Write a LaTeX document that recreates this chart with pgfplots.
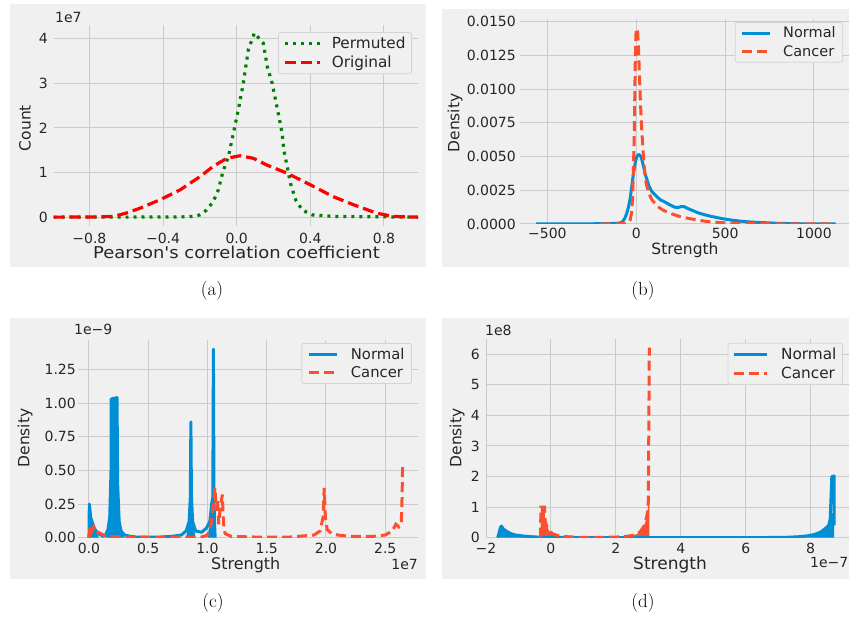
\documentclass[border=0pt]{standalone}
\usepackage{pgfplots}
\pgfplotsset{compat=1.18}
\usepackage{fontspec}
\newfontfamily\dv{DejaVu Sans}
\definecolor{bgc}{HTML}{F0F0F0}
\definecolor{gridc}{HTML}{CBCBCB}
\definecolor{txt}{HTML}{262626}
\definecolor{cblue}{HTML}{008FD5}
\definecolor{cred}{HTML}{FC4F30}
\definecolor{pgreen}{HTML}{008000}
\definecolor{pred}{HTML}{FF0000}
\definecolor{legc}{HTML}{D4D4D4}
\newcommand{\tfs}{\dv\fontsize{14}{14}\selectfont}
\newcommand{\lfs}{\dv\fontsize{15.5}{16}\selectfont}
\newcommand{\gfs}{\dv\fontsize{14.5}{15}\selectfont}
\pgfplotsset{
  panel/.style={scale only axis, anchor=south west,
    scaled x ticks=false, scaled y ticks=false,
    axis line style={draw=none}, major tick length=0pt,
    grid=major, major grid style={draw=gridc, line width=1pt},
    tick label style={font=\tfs, text=txt},
    xticklabel style={inner sep=0pt, anchor=north},
    yticklabel style={inner sep=0pt, anchor=east},
    legend cell align=left,
    legend style={anchor=north east, draw=legc, line width=0.8pt, fill=bgc,
      rounded corners=2pt, font=\gfs, text=txt, inner ysep=3pt, row sep=3pt,
      nodes={inner sep=1.5pt}},
  },
  bl/.style={cblue, line width=3pt, line join=round},
  rd/.style={cred, line width=3pt, dash pattern=on 10pt off 5pt},
}
\begin{document}
\begin{tikzpicture}
\useasboundingbox (0pt,0pt) rectangle (849pt,621pt);
\fill[bgc] (10pt,354.3pt) rectangle (425.7pt,617pt);
\fill[bgc] (441.7pt,354.3pt) rectangle (849pt,611.7pt);
\fill[bgc] (10pt,41.7pt) rectangle (425.7pt,302.7pt);
\fill[bgc] (441.7pt,41.7pt) rectangle (849pt,303pt);

% ---------------- (a)
\begin{axis}[panel, at={(53.5pt,394.5pt)}, width=364.5pt, height=201.5pt,
  xmin=-0.995, xmax=0.985, ymin=-0.21, ymax=4.31,
  xtick={-0.8,-0.4,0,0.4,0.8}, xticklabels={−0.8,−0.4,0.0,0.4,0.8},
  ytick={0,1,2,3,4}, yticklabels={0,1,2,3,4},
  xticklabel style={yshift=-6pt}, yticklabel style={xshift=-5.5pt},
  legend style={at={(axis description cs:0.9835,0.965)}, inner xsep=4.5pt, column sep=9pt,
    font=\dv\fontsize{15.3}{16}\selectfont},
  legend image code/.code={\draw[#1] (0pt,0pt) -- (35pt,0pt);}]
\addplot[pgreen, line width=3.2pt, dash pattern=on 3pt off 5pt] coordinates {
(-0.995,0) (-0.6,0) (-0.3,0.005) (-0.235,0.015) (-0.199,0.05) (-0.163,0.16) (-0.127,0.35)
(-0.1,0.61) (-0.076,1.0) (-0.045,1.36) (-0.018,1.88) (0.009,2.41) (0.036,3.0) (0.063,3.75)
(0.096,4.13) (0.145,3.9) (0.166,3.38) (0.193,3.0) (0.211,2.63) (0.229,2.26) (0.247,1.88)
(0.256,1.51) (0.274,1.14) (0.292,0.76) (0.32,0.39) (0.356,0.16) (0.41,0.05) (0.53,0.015) (0.985,0)};
\addlegendentry{Permuted}
\addplot[pred, line width=3.2pt, dash pattern=on 11pt off 5pt] coordinates {
(-0.995,0) (-0.8,0.003) (-0.67,0.015) (-0.6,0.09) (-0.525,0.2) (-0.416,0.39) (-0.308,0.61)
(-0.199,0.91) (-0.127,1.14) (-0.054,1.32) (0.018,1.376) (0.09,1.32) (0.163,1.17)
(0.271,0.99) (0.398,0.73) (0.524,0.46) (0.633,0.28) (0.76,0.09) (0.85,0.015) (0.985,0)};
\addlegendentry{Original}
\end{axis}

% ---------------- (b)
\begin{axis}[panel, at={(520pt,397pt)}, width=329pt, height=204.6pt,
  xmin=-654, xmax=1197, ymin=0, ymax=0.01517,
  xtick={-500,0,500,1000}, xticklabels={−500,0,500,1000},
  ytick={0,0.0025,0.005,0.0075,0.01,0.0125,0.015},
  yticklabels={0.0000,0.0025,0.0050,0.0075,0.0100,0.0125,0.0150},
  xticklabel style={yshift=-4pt}, yticklabel style={xshift=-4pt},
  legend style={at={(axis description cs:0.982,0.987)}, inner xsep=5.5pt, column sep=10pt},
  legend image code/.code={\draw[#1] (0pt,0pt) -- (28pt,0pt);}]
\addplot[bl] coordinates {
(-564,0) (-300,0.00001) (-150,0.00003) (-100,0.00006) (-81,0.00012) (-65,0.0004) (-53,0.0008)
(-43,0.0013) (-34,0.0019) (-25,0.0028) (-15,0.0038) (-5,0.0046) (4,0.005) (13,0.00516)
(20,0.0051) (26,0.005) (33,0.0047) (41,0.00425) (50,0.0037) (60,0.0033) (72,0.0028)
(88,0.0024) (110,0.0021) (135,0.0018) (165,0.0016) (192,0.0014) (215,0.00125) (235,0.00122)
(255,0.0013) (270,0.00128) (290,0.00115) (320,0.00098) (350,0.00082) (380,0.0007)
(420,0.00057) (474,0.00042) (530,0.0003) (586,0.00021) (650,0.00014) (718,0.0001)
(800,0.00005) (906,0.00002) (1000,0.00001) (1122,0)};
\addlegendentry{Normal}
\addplot[rd] coordinates {
(-200,0) (-100,0.00001) (-62,0.00005) (-45,0.0001) (-34,0.0003) (-27,0.0008) (-21,0.0018)
(-16,0.004) (-11,0.0067) (-6,0.0117) (-2,0.014) (0,0.0144) (4,0.0145) (8,0.0142)
(13,0.0129) (18,0.011) (23,0.0092) (30,0.0072) (38,0.0055) (46,0.0041) (56,0.003)
(70,0.0023) (88,0.0018) (120,0.0013) (154,0.001) (200,0.00075) (248,0.00054) (300,0.0004)
(342,0.0003) (400,0.00018) (474,0.0001) (600,0.00004) (718,0.00002) (900,0.00001) (1122,0)};
\addlegendentry{Cancer}
\end{axis}

% ---------------- (c)
\begin{axis}[panel, at={(78.3pt,83.3pt)}, width=340pt, height=197.7pt,
  xmin=-0.09, xmax=2.779, ymin=0, ymax=1.468,
  xtick={0,0.5,1,1.5,2,2.5}, xticklabels={0.0,0.5,1.0,1.5,2.0,2.5},
  ytick={0,0.25,0.5,0.75,1,1.25}, yticklabels={0.00,0.25,0.50,0.75,1.00,1.25},
  xticklabel style={yshift=-5.3pt}, yticklabel style={xshift=-2.3pt},
  legend style={at={(axis description cs:0.981,0.985)}, inner xsep=5.5pt, column sep=11pt,
    font=\dv\fontsize{14.8}{15}\selectfont},
  legend image code/.code={\draw[#1] (0pt,0pt) -- (28pt,0pt);}]
\addplot[cblue, draw=none, fill=cblue, forget plot] coordinates {
(-0.002,0) (0.003,0.25) (0.01,0.2) (0.02,0.12) (0.04,0.09) (0.06,0.05) (0.085,0)} \closedcycle;
\addplot[cblue, draw=none, fill=cblue, forget plot] coordinates {
(0.14,0) (0.16,0.06) (0.175,0.12) (0.186,0.5) (0.188,1.03) (0.237,1.04) (0.242,0.4) (0.26,0.1) (0.29,0.03) (0.3,0)} \closedcycle;
\addplot[cblue, draw=none, fill=cblue, forget plot] coordinates {
(0.82,0) (0.84,0.1) (0.855,0.3) (0.86,0.86) (0.865,0.3) (0.88,0.1) (0.9,0)} \closedcycle;
\addplot[cblue, draw=none, fill=cblue, forget plot] coordinates {
(1.0,0) (1.02,0.12) (1.035,0.25) (1.05,1.0) (1.06,0.1) (1.065,0)} \closedcycle;
\addplot[bl] coordinates {
(0.0,0.0) (0.003,0.25) (0.015,0.15) (0.03,0.11) (0.045,0.07) (0.06,0.05) (0.08,0.03)
(0.1,0.02) (0.12,0.01) (0.14,0.02) (0.16,0.06) (0.175,0.15) (0.186,0.5) (0.188,1.03)
(0.237,1.04) (0.242,0.4) (0.255,0.12) (0.27,0.05) (0.3,0.02) (0.35,0.01) (0.4,0.005)
(0.5,0.003) (0.6,0.005) (0.7,0.01) (0.78,0.02) (0.82,0.05) (0.845,0.12) (0.855,0.3)
(0.86,0.86) (0.865,0.3) (0.875,0.12) (0.9,0.05) (0.95,0.04) (0.99,0.07) (1.02,0.12)
(1.035,0.25) (1.045,0.3) (1.05,1.40) (1.055,0.3) (1.06,0.1) (1.065,0.0)};
\addlegendentry{Normal}
\addplot[rd] coordinates {
(0.0,0.0) (0.01,0.08) (0.02,0.04) (0.04,0.08) (0.06,0.03) (0.08,0.04) (0.1,0.03)
(0.15,0.01) (0.3,0.005) (0.6,0.003) (0.95,0.005) (1.0,0.02) (1.03,0.1) (1.05,0.25)
(1.063,0.37) (1.075,0.2) (1.085,0.28) (1.095,0.1) (1.105,0.2) (1.125,0.32) (1.133,0.15)
(1.14,0.06) (1.15,0.03) (1.2,0.01) (1.4,0.005) (1.7,0.005) (1.9,0.02) (1.95,0.05)
(1.975,0.15) (1.985,0.37) (1.995,0.15) (2.01,0.06) (2.05,0.03) (2.1,0.02) (2.2,0.01)
(2.4,0.01) (2.5,0.02) (2.56,0.05) (2.59,0.1) (2.615,0.08) (2.635,0.1) (2.642,0.3) (2.647,0.56)};
\addlegendentry{Cancer}
\end{axis}

% ---------------- (d)
\begin{axis}[panel, at={(486pt,83.3pt)}, width=363pt, height=198.4pt,
  xmin=-2.0, xmax=9.18, ymin=0, ymax=6.49,
  xtick={-2,0,2,4,6,8}, xticklabels={−2,0,2,4,6,8},
  ytick={0,1,2,3,4,5,6}, yticklabels={0,1,2,3,4,5,6},
  xticklabel style={yshift=-5.3pt}, yticklabel style={xshift=-6pt},
  legend style={at={(axis description cs:0.983,0.982)}, inner xsep=4.5pt, column sep=11pt,
    font=\dv\fontsize{15.3}{16}\selectfont},
  legend image code/.code={\draw[#1] (0pt,0pt) -- (33pt,0pt);}]
\addplot[draw=none, fill=cblue, forget plot] coordinates {
(-1.64,0) (-1.6,0.15) (-1.55,0.35) (-1.52,0.38) (-1.48,0.3) (-1.42,0.25) (-1.35,0.2)
(-1.25,0.14) (-1.1,0.09) (-0.9,0.06) (-0.8,0)} \closedcycle;
\addplot[draw=none, fill=cblue, forget plot] coordinates {
(7.7,0) (7.9,0.06) (8.1,0.1) (8.3,0.18) (8.45,0.3) (8.55,0.4) (8.6,0.6) (8.65,0.8) (8.72,0.8) (8.72,0)} \closedcycle;
\addplot[draw=none, fill=cred, forget plot] coordinates {
(-0.32,0) (-0.31,1.0) (-0.2,1.0) (-0.18,0.55) (-0.12,0.35) (-0.05,0.22) (0.05,0.13)
(0.15,0.09) (0.3,0.05) (0.4,0)} \closedcycle;
\addplot[draw=none, fill=cred, forget plot] coordinates {
(2.35,0) (2.5,0.07) (2.65,0.12) (2.75,0.2) (2.85,0.35) (2.92,0.55) (2.97,0.8) (3.0,1.2) (3.03,1.2) (3.03,0)} \closedcycle;
\addplot[bl] coordinates {
(-1.64,0) (-1.6,0.15) (-1.55,0.35) (-1.52,0.38) (-1.48,0.3) (-1.42,0.25) (-1.35,0.2)
(-1.25,0.14) (-1.1,0.09) (-0.9,0.06) (-0.7,0.04) (-0.4,0.02) (0,0.01) (1,0.005) (3,0.003)
(5,0.003) (6.5,0.005) (7.2,0.01) (7.6,0.03) (7.9,0.06) (8.1,0.1) (8.3,0.18) (8.45,0.3)
(8.55,0.4) (8.6,0.6) (8.65,2.0) (8.72,2.02) (8.72,0.4)};
\addlegendentry{Normal}
\addplot[rd] coordinates {
(-0.32,0) (-0.31,1.0) (-0.2,1.0) (-0.18,0.55) (-0.12,0.35) (-0.05,0.22) (0.05,0.13)
(0.15,0.09) (0.3,0.05) (0.4,0.04) (0.7,0.02) (1.0,0.01) (1.5,0.01) (2.0,0.02) (2.3,0.04)
(2.5,0.07) (2.65,0.12) (2.75,0.2) (2.85,0.35) (2.92,0.55) (2.97,0.8) (3.0,1.2) (3.03,6.22)};
\addlegendentry{Cancer}
\end{axis}

% labels
\begin{scope}[every node/.style={text=txt, inner sep=0pt}]
\node[font=\dv\fontsize{16.3}{17}\selectfont, xscale=1.1] at (236.5pt,368.5pt) {Pearson's correlation coefficient};
\node[font=\dv\fontsize{15.5}{16}\selectfont, rotate=90] at (25pt,493pt) {Count};
\node[font=\tfs, anchor=west] at (55pt,603.5pt) {1e7};
\node[font=\lfs] at (685pt,370.3pt) {Strength};
\node[font=\lfs, rotate=90] at (455pt,498pt) {Density};
\node[font=\dv\fontsize{16}{17}\selectfont] at (245.7pt,56pt) {Strength};
\node[font=\lfs, rotate=90] at (25pt,183pt) {Density};
\node[font=\tfs, anchor=west] at (74pt,292pt) {1e−9};
\node[font=\tfs, anchor=east] at (418pt,57pt) {1e7};
\node[font=\dv\fontsize{17}{18}\selectfont] at (670pt,56pt) {Strength};
\node[font=\lfs, rotate=90] at (457pt,183pt) {Density};
\node[font=\tfs, anchor=west] at (485pt,291pt) {1e8};
\node[font=\tfs, anchor=east] at (848.5pt,58.5pt) {1e−7};
\end{scope}
\begin{scope}[every node/.style={text=black, font=\fontsize{19}{22}\selectfont}]
\node at (212pt,330pt) {(a)};
\node at (643pt,330pt) {(b)};
\node at (213pt,18pt) {(c)};
\node at (643pt,18pt) {(d)};
\end{scope}
\end{tikzpicture}
\end{document}
